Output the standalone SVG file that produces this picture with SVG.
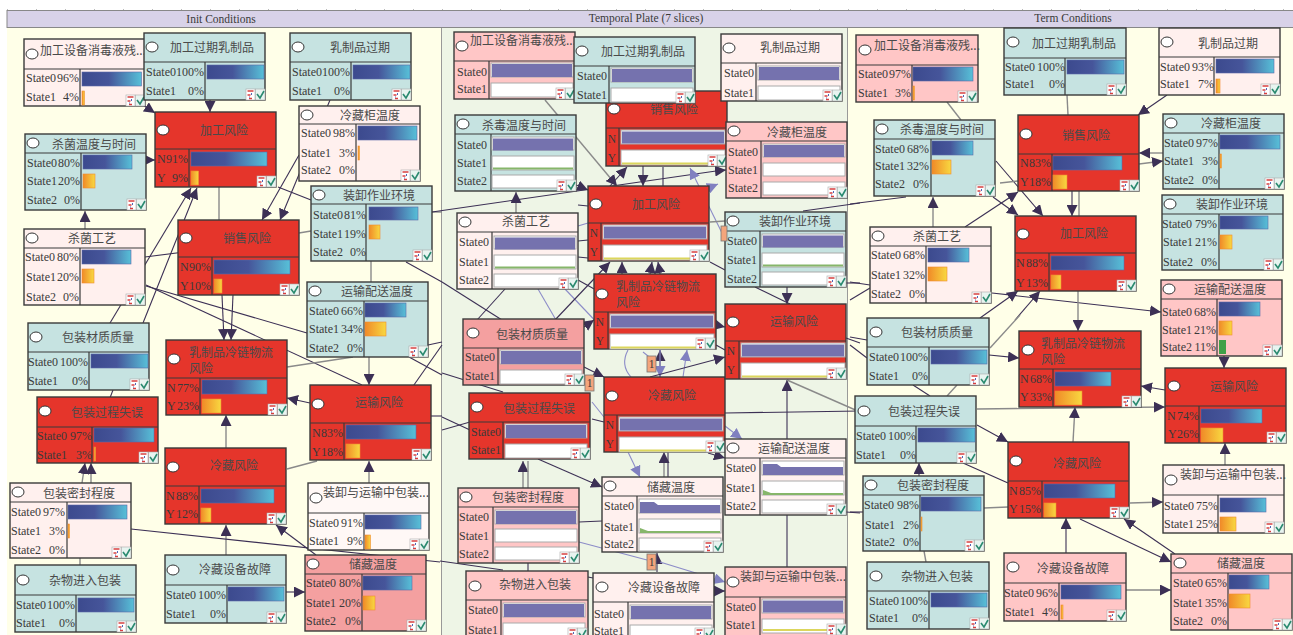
<svg xmlns="http://www.w3.org/2000/svg" width="1293" height="635" viewBox="0 0 1293 635">
<style>
text{fill:#3a3a3a}
.t,.tl{font:12px "Noto Sans CJK SC","Noto Sans",sans-serif;fill:#4a4a4a}
.t{text-anchor:middle}
.s,.p,.h{font:12px "Liberation Serif",serif}
.p{text-anchor:end}
.h{text-anchor:middle;font-size:11.5px}
.bx{stroke:#3a3a3a;stroke-width:1.4}
.dv{fill:none;stroke:#3a3a3a;stroke-width:1.2}
.red{fill:#e5352b}.teal{fill:#c6e3e1}.pale{fill:#fff0ee}.pink{fill:#ffc6c6}.rose{fill:#f4a0a0}.wht{fill:#fff8f6}
.r{fill:#fff;stroke:#333;rx:6px;ry:5px}
.b{fill:url(#gb);stroke:#5a68a8;stroke-width:.6}
.o{fill:url(#go);stroke:#f08a30;stroke-width:.6}
.gb{fill:#3fa048}
.tr{fill:#fff;stroke:#aaa;stroke-width:1}
.pu{fill:#7572ae}
.gl{fill:#86b66a}.yl{fill:#dcd65c}
.k,.g,.l{fill:none}
.k{stroke:#3c3055;stroke-width:1.1}
.g{stroke:#8a8a8a;stroke-width:1.4}
.l{stroke:#8c8cc8;stroke-width:1.1}
.a{marker-end:url(#ah)}
.la{marker-end:url(#lh)}
.bd{fill:#f4a57c;stroke:#777;stroke-width:.8}
</style>
<defs>
<linearGradient id="gb"><stop offset="0" stop-color="#3c4a8e"/><stop offset=".45" stop-color="#46559a"/><stop offset="1" stop-color="#57c0d8"/></linearGradient>
<linearGradient id="go"><stop offset="0" stop-color="#f08a28"/><stop offset="1" stop-color="#f8d840"/></linearGradient>
<marker id="ah" markerUnits="userSpaceOnUse" markerWidth="12" markerHeight="11" refX="11" refY="5.5" orient="auto"><path d="M0 0L11 5.5L0 11z" fill="#3c3055"/></marker>
<marker id="lh" markerUnits="userSpaceOnUse" markerWidth="12" markerHeight="11" refX="11" refY="5.5" orient="auto"><path d="M0 0L11 5.5L0 11z" fill="#8080c0"/></marker>
<g id="ic"><rect width="9" height="11" fill="#fff" stroke="#aaa" stroke-width=".6"/><path d="M1.500 2h6M1.500 6h3M3 9.500h3" stroke="#d84040" stroke-width="1.500"/><path d="M5.500 4v2M3.500 7.500v1" stroke="#5068b8" stroke-width="1"/><rect x="9.500" width="9.500" height="11" fill="#e8f4f0" stroke="#aaa" stroke-width=".6"/><path d="M11 5l3 4l4-7" fill="none" stroke="#2a8a70" stroke-width="1.600"/></g>
<g id="c2"><rect class="tr" width="82" height="14"/><rect class="pu" x="1" y="1" width="80" height="13"/><rect class="tr" y="20" width="82" height="14"/></g>
<g id="c3"><rect class="tr" width="82" height="13"/><rect class="pu" x="1" y="1.500" width="80" height="12"/><rect class="tr" y="19" width="82" height="14"/><rect class="gl" x="1" y="30.500" width="80" height="2"/><rect class="tr" y="38" width="82" height="13"/></g>
<g id="c3s"><rect class="tr" width="82" height="14"/><path class="pu" d="M1 14V3h14l4 3h62v8z"/><rect class="tr" y="20" width="82" height="14"/><path class="gl" d="M1 34v-5l8 3h72v2z"/><rect class="tr" y="39" width="82" height="13"/></g>
<g id="c2r"><rect class="tr" width="104" height="14"/><rect class="pu" x="1" y="1.500" width="102" height="12"/><rect class="tr" y="20" width="104" height="15"/><rect class="yl" x="1" y="32.500" width="102" height="2"/></g>
</defs>
<rect x="7" y="28" width="435" height="607" fill="#ffffe8"/>
<rect x="442" y="28" width="406" height="607" fill="#eef5e6"/>
<rect x="848" y="28" width="445" height="607" fill="#ffffe8"/>
<path d="M441.500 28V635M847.500 28V635" stroke="#999" fill="none"/>
<g id="band">
<path d="M7 9.500H1293" stroke="#bbb" stroke-dasharray="1 28" fill="none"/>
<rect x="7" y="10.500" width="1287" height="17" fill="#d8d2e8" stroke="#888"/>
<text class="h" x="221" y="23">Init Conditions</text>
<text class="h" x="646" y="22">Temporal Plate (7 slices)</text>
<text class="h" x="1073" y="22">Term Conditions</text>
</g>
<g id="connectors">
<path class="k a" d="M140 103L155 113"/>
<path class="k a" d="M210 100V112"/>
<path class="k a" d="M146 160H155"/>
<path class="g a" d="M85 229V211"/>
<path class="k a" d="M110 323L191 188"/>
<path class="k a" d="M143 323L197 188"/>
<path class="k" d="M145 257L200 250"/>
<path class="k" d="M146 285L362 385"/>
<path class="k" d="M146 286L307 333"/>
<path class="k a" d="M299 155L262 220"/>
<path class="k a" d="M330 100L280 220"/>
<path class="g" d="M219 187V220"/>
<path class="k" d="M278 187L311 200"/>
<path class="g" d="M299 233L311 231"/>
<path class="g" d="M371 261V282"/>
<path class="k" d="M406 262L442 282"/>
<path class="g" d="M432 212H442"/>
<path class="k a" d="M222 295L224 340"/>
<path class="k a" d="M233 295L231 340"/>
<path class="g a" d="M369 357V385"/>
<path class="k a" d="M310 403L287 398"/>
<path class="g" d="M287 367L353 357"/>
<path class="g a" d="M226 448V415"/>
<path class="g" d="M287 469L317 461"/>
<path class="k" d="M409 357L442 375"/>
<path class="k" d="M431 416H442"/>
<path class="k" d="M409 392L442 345"/>
<path class="k" d="M428 345L442 342"/>
<path class="g a" d="M82 483L85 463"/>
<path class="g a" d="M91 483V463"/>
<path class="k a" d="M113 390L85 463"/>
<path class="g a" d="M226 555V525"/>
<path class="k a" d="M316 555L276 525"/>
<path class="k" d="M131 529L440 562"/>
<path class="k a" d="M286 592H305"/>
<path class="g a" d="M369 483V461"/>
<path class="g" d="M80 565V558"/>
<path class="k" d="M432 212L716 171"/>
<path class="k a" d="M716 171L726 170"/>
<path class="g a" d="M545 100L617 186"/>
<path class="k a" d="M576 185L588 190"/>
<path class="g a" d="M516 213V192"/>
<path class="k a" d="M610 186L627 167"/>
<path class="k a" d="M643 166V186"/>
<path class="k" d="M663 167V186"/>
<path class="l la" d="M722 233L690 168"/>
<path class="l la" d="M690 196L718 184"/>
<path class="k" d="M578 205L588 206"/>
<path class="l" d="M578 226L588 223"/>
<path class="k" d="M578 241L588 240"/>
<path class="k" d="M578 257L588 258"/>
<path class="g" d="M710 222L725 221"/>
<path class="k" d="M710 262L725 270"/>
<path class="k" d="M505 289L477 320"/>
<path class="l" d="M538 289L556 320"/>
<path class="l" d="M565 289L604 330"/>
<path class="k" d="M442 282L502 320"/>
<path class="k a" d="M555 320L610 262"/>
<path class="k a" d="M622 274V262"/>
<path class="k a" d="M650 274L652 262"/>
<path class="k a" d="M660 274L658 262"/>
<path class="k" d="M578 280L596 290"/>
<path class="k a" d="M787 287V304"/>
<path class="k" d="M755 287L790 304"/>
<path class="k" d="M803 211L860 203"/>
<path class="k" d="M846 283H860"/>
<path class="k a" d="M584 327L594 320"/>
<path class="k a" d="M584 367L604 377"/>
<path class="k a" d="M716 325L725 327"/>
<path class="k" d="M716 345L725 350"/>
<path class="l" d="M628 350Q620 365 631 377"/>
<path class="l" d="M643 352L653 360"/>
<path class="k a" d="M660 377V350"/>
<path class="l la" d="M660 350V377"/>
<path class="l la" d="M683 377L687 350"/>
<path class="k a" d="M650 377L725 357"/>
<path class="l" d="M592 402L604 417"/>
<path class="k" d="M592 419L604 422"/>
<path class="k" d="M442 373L503 392"/>
<path class="k" d="M442 417L470 430"/>
<path class="k" d="M442 430L470 422"/>
<path class="g a" d="M664 477V452"/>
<path class="k" d="M668 477V452"/>
<path class="l la" d="M628 452L640 477"/>
<path class="l la" d="M725 426L742 439"/>
<path class="k a" d="M708 453L725 458"/>
<path class="k a" d="M787 439V380"/>
<path class="g" d="M787 380L860 412"/>
<path class="k" d="M725 413L860 411"/>
<path class="k a" d="M538 459L602 487"/>
<path class="g a" d="M523 488V461"/>
<path class="g" d="M528 488V461"/>
<path class="k" d="M579 522L602 521"/>
<path class="l" d="M579 542L647 560"/>
<path class="k a" d="M657 572V553"/>
<path class="l la" d="M660 562L725 582"/>
<path class="k a" d="M714 591H725"/>
<path class="k" d="M528 563V571"/>
<path class="k" d="M440 561L503 570"/>
<path class="k" d="M588 577L593 578"/>
<path class="k" d="M787 515V567"/>
<path class="k" d="M846 512L860 513"/>
<path class="k" d="M846 338L860 343"/>
<path class="g" d="M947 102L961 120"/>
<path class="g" d="M1067 95L1068 115"/>
<path class="k a" d="M1167 95L1138 115"/>
<path class="g a" d="M1163 153L1139 153"/>
<path class="g a" d="M1139 164L1163 161"/>
<path class="k a" d="M996 161L1043 216"/>
<path class="g" d="M1000 183L1018 181"/>
<path class="k a" d="M1072 191V216"/>
<path class="g" d="M1079 191V216"/>
<path class="k a" d="M993 197L1018 215"/>
<path class="g a" d="M933 227V197"/>
<path class="k a" d="M965 227L1018 192"/>
<path class="k" d="M850 204L906 197"/>
<path class="k" d="M850 282L870 285"/>
<path class="k" d="M850 300L870 288"/>
<path class="k a" d="M992 293L1161 312"/>
<path class="k a" d="M980 318L1018 291"/>
<path class="k a" d="M1015 320L1040 291"/>
<path class="g a" d="M1078 291V331"/>
<path class="k a" d="M989 355L1019 358"/>
<path class="g" d="M990 348L1020 315"/>
<path class="k" d="M850 337L867 340"/>
<path class="k" d="M850 345L867 358"/>
<path class="k" d="M913 385L930 396"/>
<path class="g" d="M957 385L947 396"/>
<path class="g a" d="M977 409L1165 407"/>
<path class="k a" d="M977 425L1008 442"/>
<path class="k" d="M963 463L1008 483"/>
<path class="k a" d="M919 476V463"/>
<path class="g" d="M984 508L1008 507"/>
<path class="g a" d="M1073 442L1075 407"/>
<path class="k a" d="M1165 390L1141 386"/>
<path class="k a" d="M1224 356V368"/>
<path class="g a" d="M1225 465V443"/>
<path class="g a" d="M1130 503L1163 502"/>
<path class="k a" d="M1066 553V518"/>
<path class="k a" d="M1080 519L1171 562"/>
<path class="k a" d="M1175 554L1124 519"/>
<path class="g a" d="M1126 590H1171"/>
<path class="g" d="M924 551L926 562"/>
<path class="k" d="M850 512L863 512"/>
</g>
<g id="i1" transform="translate(24,39)"><rect class="bx pale" width="121" height="67"/><path class="dv" d="M0 30H121M56 30V67"/><ellipse class="r" cx="8" cy="15"/><text class="tl" x="16" y="16">加工设备消毒液残...</text><text class="s" x="2" y="43">State0</text><text class="p" x="55" y="43">96%</text><text class="s" x="2" y="62">State1</text><text class="p" x="55" y="62">4%</text><rect class="b" x="58" y="33" width="59.500" height="14"/><rect class="o" x="58" y="52" width="2.500" height="14"/><use href="#ic" x="102" y="56"/></g>
<g id="i2" transform="translate(144,33)"><rect class="bx teal" width="121" height="67"/><path class="dv" d="M0 29H121M61 29V67"/><ellipse class="r" cx="8" cy="14"/><text class="t" x="68" y="19">加工过期乳制品</text><text class="s" x="2" y="43">State0</text><text class="p" x="60" y="43">100%</text><text class="s" x="2" y="62">State1</text><text class="p" x="60" y="62">0%</text><rect class="b" x="63" y="32" width="57" height="14"/><use href="#ic" x="102" y="56"/></g>
<g id="i3" transform="translate(290,33)"><rect class="bx teal" width="121" height="67"/><path class="dv" d="M0 29H121M61 29V67"/><ellipse class="r" cx="8" cy="14"/><text class="t" x="70" y="19">乳制品过期</text><text class="s" x="2" y="43">State0</text><text class="p" x="60" y="43">100%</text><text class="s" x="2" y="62">State1</text><text class="p" x="60" y="62">0%</text><rect class="b" x="63" y="32" width="57" height="14"/><use href="#ic" x="102" y="56"/></g>
<g id="i4" transform="translate(299,106)"><rect class="bx pale" width="121" height="75"/><path class="dv" d="M0 18H121M57 18V75"/><ellipse class="r" cx="8" cy="9"/><text class="t" x="71" y="14">冷藏柜温度</text><text class="s" x="2" y="31">State0</text><text class="p" x="56" y="31">98%</text><text class="s" x="2" y="51">State1</text><text class="p" x="56" y="51">3%</text><text class="s" x="2" y="68">State2</text><text class="p" x="56" y="68">0%</text><rect class="b" x="59" y="20" width="59" height="14"/><rect class="o" x="59" y="40" width="1.500" height="14"/><use href="#ic" x="102" y="64"/></g>
<g id="i5" transform="translate(311,186)"><rect class="bx teal" width="121" height="75"/><path class="dv" d="M0 18H121M55 18V75"/><ellipse class="r" cx="8" cy="9"/><text class="t" x="68" y="14">装卸作业环境</text><text class="s" x="2" y="33">State0</text><text class="p" x="55" y="33">81%</text><text class="s" x="2" y="52">State1</text><text class="p" x="55" y="52">19%</text><text class="s" x="2" y="70">State2</text><text class="p" x="55" y="70">0%</text><rect class="b" x="58" y="21" width="49" height="13"/><rect class="o" x="58" y="39" width="11" height="14"/><use href="#ic" x="102" y="64"/></g>
<g id="i6" transform="translate(307,282)"><rect class="bx teal" width="121" height="75"/><path class="dv" d="M0 19H121M57 19V75"/><ellipse class="r" cx="8" cy="9"/><text class="t" x="70" y="14">运输配送温度</text><text class="s" x="2" y="33">State0</text><text class="p" x="56" y="33">66%</text><text class="s" x="2" y="51">State1</text><text class="p" x="56" y="51">34%</text><text class="s" x="2" y="70">State2</text><text class="p" x="56" y="70">0%</text><rect class="b" x="58" y="21" width="41" height="14"/><rect class="o" x="58" y="40" width="21" height="14"/><use href="#ic" x="102" y="64"/></g>
<g id="i7" transform="translate(155,112)"><rect class="bx red" width="121" height="75"/><path class="dv" d="M0 37H121M34 37V75"/><ellipse class="r" cx="8" cy="18"/><text class="t" x="69" y="23">加工风险</text><text class="s" x="2" y="51">N</text><text class="p" x="33" y="51">91%</text><text class="s" x="2" y="70">Y</text><text class="p" x="33" y="70">9%</text><rect class="b" x="36" y="40" width="76" height="14"/><rect class="o" x="36" y="59" width="7.600" height="14"/><use href="#ic" x="102" y="64"/></g>
<g id="i8" transform="translate(178,220)"><rect class="bx red" width="121" height="75"/><path class="dv" d="M0 37H121M34 37V75"/><ellipse class="r" cx="8" cy="18"/><text class="t" x="69" y="23">销售风险</text><text class="s" x="2" y="51">N</text><text class="p" x="33" y="51">90%</text><text class="s" x="2" y="70">Y</text><text class="p" x="33" y="70">10%</text><rect class="b" x="36" y="40" width="76" height="14"/><rect class="o" x="36" y="59" width="8" height="14"/><use href="#ic" x="102" y="64"/></g>
<g id="i9" transform="translate(25,134)"><rect class="bx teal" width="121" height="76"/><path class="dv" d="M0 19H121M56 19V76"/><ellipse class="r" cx="8" cy="9"/><text class="t" x="69" y="15">杀菌温度与时间</text><text class="s" x="2" y="33">State0</text><text class="p" x="55" y="33">80%</text><text class="s" x="2" y="51">State1</text><text class="p" x="55" y="51">20%</text><text class="s" x="2" y="70">State2</text><text class="p" x="55" y="70">0%</text><rect class="b" x="58" y="21" width="49" height="14"/><rect class="o" x="58" y="40" width="12" height="14"/><use href="#ic" x="102" y="65"/></g>
<g id="i10" transform="translate(24,229)"><rect class="bx pale" width="121" height="76"/><path class="dv" d="M0 19H121M56 19V76"/><ellipse class="r" cx="8" cy="9"/><text class="t" x="68" y="14">杀菌工艺</text><text class="s" x="1" y="32">State0</text><text class="p" x="55" y="32">80%</text><text class="s" x="2" y="52">State1</text><text class="p" x="55" y="52">20%</text><text class="s" x="2" y="72">State2</text><text class="p" x="55" y="72">0%</text><rect class="b" x="58" y="21" width="49" height="14"/><rect class="o" x="58" y="40" width="12" height="14"/><use href="#ic" x="102" y="65"/></g>
<g id="i11" transform="translate(28,323)"><rect class="bx teal" width="121" height="67"/><path class="dv" d="M0 29H121M61 29V67"/><ellipse class="r" cx="8" cy="14"/><text class="t" x="70" y="19">包装材质质量</text><text class="s" x="0" y="43">State0</text><text class="p" x="60" y="43">100%</text><text class="s" x="0" y="62">State1</text><text class="p" x="60" y="62">0%</text><rect class="b" x="63" y="31" width="57" height="14"/><use href="#ic" x="102" y="56"/></g>
<g id="i12" transform="translate(37,397)"><rect class="bx red" width="121" height="66"/><path class="dv" d="M0 30H121M55 30V66"/><ellipse class="r" cx="8" cy="14"/><text class="t" x="70" y="20">包装过程失误</text><text class="s" x="0" y="43">State0</text><text class="p" x="55" y="43">97%</text><text class="s" x="0" y="62">State1</text><text class="p" x="55" y="62">3%</text><rect class="b" x="57" y="31" width="60" height="14"/><rect class="o" x="57" y="50" width="1.500" height="14"/><use href="#ic" x="102" y="55"/></g>
<g id="i13" transform="translate(166,340)"><rect class="bx red" width="121" height="75"/><path class="dv" d="M0 38H121M34 38V75"/><ellipse class="r" cx="8" cy="19"/><text class="tl" x="23" y="17">乳制品冷链物流<tspan x="23" y="33">风险</tspan></text><text class="s" x="1" y="52">N</text><text class="p" x="33" y="52">77%</text><text class="s" x="1" y="70">Y</text><text class="p" x="33" y="70">23%</text><rect class="b" x="36" y="40" width="65" height="14"/><rect class="o" x="36" y="59" width="19" height="14"/><use href="#ic" x="102" y="64"/></g>
<g id="i14" transform="translate(310,385)"><rect class="bx red" width="121" height="75"/><path class="dv" d="M0 38H121M34 38V75"/><ellipse class="r" cx="8" cy="19"/><text class="t" x="69" y="22">运输风险</text><text class="s" x="2" y="52">N</text><text class="p" x="33" y="52">83%</text><text class="s" x="2" y="71">Y</text><text class="p" x="33" y="71">18%</text><rect class="b" x="36" y="40" width="70" height="14"/><rect class="o" x="36" y="59" width="14" height="14"/><use href="#ic" x="102" y="64"/></g>
<g id="i15" transform="translate(165,448)"><rect class="bx red" width="121" height="76"/><path class="dv" d="M0 38H121M34 38V76"/><ellipse class="r" cx="8" cy="19"/><text class="t" x="69" y="22">冷藏风险</text><text class="s" x="1" y="52">N</text><text class="p" x="33" y="52">88%</text><text class="s" x="1" y="70">Y</text><text class="p" x="33" y="70">12%</text><rect class="b" x="36" y="41" width="73" height="14"/><rect class="o" x="36" y="60" width="10" height="14"/><use href="#ic" x="102" y="65"/></g>
<g id="i16" transform="translate(10,483)"><rect class="bx pale" width="121" height="75"/><path class="dv" d="M0 19H121M57 19V75"/><ellipse class="r" cx="8" cy="9"/><text class="t" x="69" y="15">包装密封程度</text><text class="s" x="1" y="33">State0</text><text class="p" x="55" y="33">97%</text><text class="s" x="1" y="52">State1</text><text class="p" x="55" y="52">3%</text><text class="s" x="1" y="71">State2</text><text class="p" x="55" y="71">0%</text><rect class="b" x="58" y="22" width="59" height="14"/><rect class="o" x="58" y="41" width="1.500" height="14"/><use href="#ic" x="102" y="64"/></g>
<g id="i17" transform="translate(308,483)"><rect class="bx wht" width="121" height="67"/><path class="dv" d="M0 30H121M56 30V67"/><ellipse class="r" cx="8" cy="15"/><text class="tl" x="15" y="14">装卸与运输中包装...</text><text class="s" x="1" y="44">State0</text><text class="p" x="55" y="44">91%</text><text class="s" x="1" y="62">State1</text><text class="p" x="55" y="62">9%</text><rect class="b" x="57" y="32" width="56" height="14"/><rect class="o" x="57" y="52" width="5.500" height="14"/><use href="#ic" x="102" y="56"/></g>
<g id="i18" transform="translate(15,565)"><rect class="bx teal" width="121" height="67"/><path class="dv" d="M0 30H121M61 30V67"/><ellipse class="r" cx="8" cy="15"/><text class="t" x="70" y="20">杂物进入包装</text><text class="s" x="1" y="44">State0</text><text class="p" x="60" y="44">100%</text><text class="s" x="1" y="62">State1</text><text class="p" x="60" y="62">0%</text><rect class="b" x="63" y="33" width="56" height="14"/><use href="#ic" x="102" y="56"/></g>
<g id="i19" transform="translate(165,555)"><rect class="bx teal" width="121" height="68"/><path class="dv" d="M0 30H121M62 30V68"/><ellipse class="r" cx="8" cy="15"/><text class="t" x="70" y="19">冷藏设备故障</text><text class="s" x="1" y="44">State0</text><text class="p" x="61" y="44">100%</text><text class="s" x="1" y="63">State1</text><text class="p" x="61" y="63">0%</text><rect class="b" x="63" y="32" width="56" height="14"/><use href="#ic" x="102" y="57"/></g>
<g id="i20" transform="translate(305,555)"><rect class="bx rose" width="121" height="76"/><path class="dv" d="M0 19H121M57 19V76"/><ellipse class="r" cx="8" cy="9"/><text class="t" x="68" y="14">储藏温度</text><text class="s" x="1" y="32">State0</text><text class="p" x="56" y="32">80%</text><text class="s" x="1" y="52">State1</text><text class="p" x="56" y="52">20%</text><text class="s" x="1" y="70">State2</text><text class="p" x="56" y="70">0%</text><rect class="b" x="58" y="21" width="49" height="14"/><rect class="o" x="58" y="41" width="12" height="14"/><use href="#ic" x="102" y="65"/></g>

<g id="t4" transform="translate(606,91)"><rect class="bx red" width="121" height="75"/><path class="dv" d="M0 37H121M13 37V75"/><ellipse class="r" cx="8" cy="18"/><text class="t" x="68" y="23">销售风险</text><text class="h" x="6" y="52">N</text><text class="h" x="6" y="71">Y</text><use href="#c2r" x="15" y="39"/><use href="#ic" x="102" y="64"/></g>
<g id="t1" transform="translate(454,32)"><rect class="bx pink" width="121" height="67"/><path class="dv" d="M0 29H121M35 29V67"/><ellipse class="r" cx="8" cy="14"/><text class="tl" x="16" y="13">加工设备消毒液残...</text><text class="s" x="3" y="44">State0</text><text class="s" x="3" y="61">State1</text><use href="#c2" x="37" y="31"/><use href="#ic" x="102" y="56"/></g>
<g id="t2" transform="translate(574,37)"><rect class="bx teal" width="121" height="66"/><path class="dv" d="M0 29H121M35 29V66"/><ellipse class="r" cx="8" cy="14"/><text class="t" x="69" y="19">加工过期乳制品</text><text class="s" x="3" y="43">State0</text><text class="s" x="3" y="62">State1</text><use href="#c2" x="37" y="31"/><use href="#ic" x="102" y="55"/></g>
<g id="t3" transform="translate(721,34)"><rect class="bx pale" width="121" height="67"/><path class="dv" d="M0 29H121M35 29V67"/><ellipse class="r" cx="8" cy="14"/><text class="t" x="69" y="18">乳制品过期</text><text class="s" x="3" y="43">State0</text><text class="s" x="3" y="63">State1</text><use href="#c2" x="37" y="32"/><use href="#ic" x="102" y="56"/></g>
<g id="t5" transform="translate(726,122)"><rect class="bx pink" width="121" height="76"/><path class="dv" d="M0 19H121M35 19V76"/><ellipse class="r" cx="8" cy="9"/><text class="t" x="71" y="15">冷藏柜温度</text><text class="s" x="2" y="34">State0</text><text class="s" x="2" y="52">State1</text><text class="s" x="2" y="70">State2</text><g transform="translate(37,22)"><rect class="tr" width="82" height="13"/><rect class="pu" x="1" y="1" width="80" height="12"/><rect class="tr" y="19" width="82" height="13"/><rect class="tr" y="38" width="82" height="13"/></g><use href="#ic" x="102" y="65"/></g>
<g id="t6" transform="translate(455,115)"><rect class="bx teal" width="121" height="76"/><path class="dv" d="M0 19H121M36 19V76"/><ellipse class="r" cx="8" cy="9"/><text class="t" x="69" y="15">杀毒温度与时间</text><text class="s" x="2" y="34">State0</text><text class="s" x="2" y="52">State1</text><text class="s" x="2" y="70">State2</text><use href="#c3" x="37" y="22"/><use href="#ic" x="102" y="65"/></g>
<g id="t7" transform="translate(588,186)"><rect class="bx red" width="121" height="75"/><path class="dv" d="M0 37H121M13 37V75"/><ellipse class="r" cx="8" cy="18"/><text class="t" x="68" y="23">加工风险</text><text class="h" x="6" y="51">N</text><text class="h" x="6" y="70">Y</text><use href="#c2r" x="15" y="39"/><use href="#ic" x="102" y="64"/></g>
<g id="t8" transform="translate(457,213)"><rect class="bx pale" width="121" height="76"/><path class="dv" d="M0 19H121M35 19V76"/><ellipse class="r" cx="8" cy="9"/><text class="t" x="69" y="13">杀菌工艺</text><text class="s" x="2" y="33">State0</text><text class="s" x="2" y="53">State1</text><text class="s" x="2" y="71">State2</text><use href="#c3" x="37" y="23"/><use href="#ic" x="102" y="65"/></g>
<g id="t9" transform="translate(725,212)"><rect class="bx teal" width="121" height="75"/><path class="dv" d="M0 19H121M35 19V75"/><ellipse class="r" cx="8" cy="9"/><text class="t" x="70" y="14">装卸作业环境</text><text class="s" x="2" y="33">State0</text><text class="s" x="2" y="52">State1</text><text class="s" x="2" y="71">State2</text><use href="#c3" x="37" y="22"/><use href="#ic" x="102" y="64"/></g>
<g id="t10" transform="translate(594,274)"><rect class="bx red" width="122" height="75"/><path class="dv" d="M0 38H122M14 38V75"/><ellipse class="r" cx="8" cy="20"/><text class="tl" x="22" y="17">乳制品冷链物流<tspan x="22" y="33">风险</tspan></text><text class="h" x="6" y="52">N</text><text class="h" x="6" y="71">Y</text><use href="#c2r" x="16" y="40"/><use href="#ic" x="102" y="64"/></g>
<g id="t12" transform="translate(463,319)"><rect class="bx rose" width="121" height="66"/><path class="dv" d="M0 29H121M35 29V66"/><ellipse class="r" cx="10" cy="14"/><text class="t" x="69" y="20">包装材质质量</text><text class="s" x="2" y="42">State0</text><text class="s" x="2" y="61">State1</text><use href="#c2" x="37" y="31"/><use href="#ic" x="102" y="55"/></g>
<g id="t13" transform="translate(604,377)"><rect class="bx red" width="121" height="75"/><path class="dv" d="M0 38H121M13 38V75"/><ellipse class="r" cx="8" cy="19"/><text class="t" x="68" y="23">冷藏风险</text><text class="h" x="6" y="52">N</text><text class="h" x="6" y="71">Y</text><use href="#c2r" x="15" y="40"/><use href="#ic" x="102" y="64"/></g>
<g id="t14" transform="translate(469,393)"><rect class="bx red" width="121" height="66"/><path class="dv" d="M0 29H121M34 29V66"/><ellipse class="r" cx="8" cy="14"/><text class="t" x="70" y="20">包装过程失误</text><text class="s" x="2" y="43">State0</text><text class="s" x="2" y="61">State1</text><use href="#c2" x="36" y="31"/><use href="#ic" x="102" y="55"/></g>
<g id="t11" transform="translate(725,304)"><rect class="bx red" width="121" height="75"/><path class="dv" d="M0 37H121M14 37V75"/><ellipse class="r" cx="8" cy="18"/><text class="t" x="69" y="22">运输风险</text><text class="h" x="6" y="51">N</text><text class="h" x="6" y="70">Y</text><use href="#c2r" x="16" y="39"/><use href="#ic" x="102" y="64"/></g>
<g id="t15" transform="translate(725,439)"><rect class="bx pale" width="121" height="76"/><path class="dv" d="M0 19H121M35 19V76"/><ellipse class="r" cx="8" cy="9"/><text class="t" x="69" y="14">运输配送温度</text><text class="s" x="1" y="33">State0</text><text class="s" x="1" y="53">State1</text><text class="s" x="1" y="71">State2</text><use href="#c3s" x="37" y="22"/><use href="#ic" x="102" y="65"/></g>
<g id="t16" transform="translate(602,477)"><rect class="bx pale" width="121" height="75"/><path class="dv" d="M0 19H121M35 19V75"/><ellipse class="r" cx="8" cy="9"/><text class="t" x="69" y="15">储藏温度</text><text class="s" x="2" y="33">State0</text><text class="s" x="2" y="54">State1</text><text class="s" x="2" y="71">State2</text><use href="#c3s" x="37" y="22"/><use href="#ic" x="102" y="64"/></g>
<g id="t17" transform="translate(458,488)"><rect class="bx pink" width="121" height="75"/><path class="dv" d="M0 19H121M35 19V75"/><ellipse class="r" cx="8" cy="9"/><text class="t" x="70" y="14">包装密封程度</text><text class="s" x="1" y="33">State0</text><text class="s" x="1" y="52">State1</text><text class="s" x="1" y="70">State2</text><g transform="translate(37,22)"><rect class="tr" width="82" height="14"/><rect class="pu" x="1" y="1" width="80" height="13"/><rect class="tr" y="19" width="82" height="13"/><rect class="tr" y="37" width="82" height="13"/></g><use href="#ic" x="102" y="64"/></g>
<g id="t18" transform="translate(466,571)"><rect class="bx pink" width="122" height="66"/><path class="dv" d="M0 29H122M35 29V66"/><ellipse class="r" cx="9" cy="15"/><text class="t" x="69" y="18">杂物进入包装</text><text class="s" x="2" y="43">State0</text><text class="s" x="2" y="63">State1</text><use href="#c2" x="37" y="32"/><use href="#ic" x="102" y="57"/></g>
<g id="t19" transform="translate(593,573)"><rect class="bx pale" width="121" height="66"/><path class="dv" d="M0 29H121M35 29V66"/><ellipse class="r" cx="9" cy="14"/><text class="t" x="71" y="19">冷藏设备故障</text><text class="s" x="1" y="45">State0</text><text class="s" x="1" y="62">State1</text><use href="#c2" x="37" y="32"/><use href="#ic" x="102" y="55"/></g>
<g id="t20" transform="translate(725,567)"><rect class="bx pink" width="121" height="70"/><path class="dv" d="M0 30H121M35 30V70"/><ellipse class="r" cx="8" cy="15"/><text class="tl" x="15" y="14">装卸与运输中包装...</text><text class="s" x="1" y="44">State0</text><text class="s" x="1" y="62">State1</text><g transform="translate(37,32)"><rect class="tr" width="82" height="14"/><rect class="pu" x="1" y="1.500" width="80" height="12"/><rect class="tr" y="20" width="82" height="14"/><rect class="yl" x="1" y="30" width="80" height="2"/></g><use href="#ic" x="102" y="57"/></g>

<g id="r1" transform="translate(856,35)"><rect class="bx pink" width="122" height="67"/><path class="dv" d="M0 30H122M56 30V67"/><ellipse class="r" cx="9" cy="15"/><text class="tl" x="18" y="15">加工设备消毒液残...</text><text class="s" x="2" y="43">State0</text><text class="p" x="55" y="43">97%</text><text class="s" x="2" y="62">State1</text><text class="p" x="55" y="62">3%</text><rect class="b" x="57" y="32" width="60" height="14"/><rect class="o" x="57" y="51" width="1.500" height="14"/><use href="#ic" x="102" y="56"/></g>
<g id="r2" transform="translate(1004,28)"><rect class="bx teal" width="122" height="67"/><path class="dv" d="M0 30H122M61 30V67"/><ellipse class="r" cx="9" cy="14"/><text class="t" x="70" y="20">加工过期乳制品</text><text class="s" x="1" y="43">State0</text><text class="p" x="61" y="43">100%</text><text class="s" x="1" y="60">State1</text><text class="p" x="61" y="60">0%</text><rect class="b" x="63" y="32" width="57" height="14"/><use href="#ic" x="103" y="56"/></g>
<g id="r3" transform="translate(1159,28)"><rect class="bx pale" width="121" height="67"/><path class="dv" d="M0 29H121M55 29V67"/><ellipse class="r" cx="8" cy="14"/><text class="t" x="69" y="20">乳制品过期</text><text class="s" x="1" y="43">State0</text><text class="p" x="55" y="43">93%</text><text class="s" x="1" y="60">State1</text><text class="p" x="55" y="60">7%</text><rect class="b" x="57" y="31" width="58" height="14"/><rect class="o" x="57" y="51" width="4" height="14"/><use href="#ic" x="102" y="56"/></g>
<g id="r4" transform="translate(1018,115)"><rect class="bx red" width="121" height="76"/><path class="dv" d="M0 39H121M34 39V76"/><ellipse class="r" cx="8" cy="19"/><text class="t" x="68" y="25">销售风险</text><text class="s" x="2" y="52">N</text><text class="p" x="33" y="52">83%</text><text class="s" x="2" y="71">Y</text><text class="p" x="33" y="71">18%</text><rect class="b" x="35" y="41" width="69" height="14"/><rect class="o" x="35" y="60" width="14" height="14"/><use href="#ic" x="102" y="65"/></g>
<g id="r5" transform="translate(1163,114)"><rect class="bx teal" width="121" height="75"/><path class="dv" d="M0 19H121M56 19V75"/><ellipse class="r" cx="8" cy="9"/><text class="t" x="68" y="14">冷藏柜温度</text><text class="s" x="1" y="33">State0</text><text class="p" x="55" y="33">97%</text><text class="s" x="1" y="51">State1</text><text class="p" x="55" y="51">3%</text><text class="s" x="1" y="70">State2</text><text class="p" x="55" y="70">0%</text><rect class="b" x="57" y="21" width="60" height="14"/><rect class="o" x="57" y="40" width="1.500" height="14"/><use href="#ic" x="102" y="64"/></g>
<g id="r6" transform="translate(874,120)"><rect class="bx teal" width="121" height="76"/><path class="dv" d="M0 19H121M57 19V76"/><ellipse class="r" cx="8" cy="9"/><text class="t" x="68" y="14">杀毒温度与时间</text><text class="s" x="1" y="33">State0</text><text class="p" x="55" y="33">68%</text><text class="s" x="1" y="50">State1</text><text class="p" x="55" y="50">32%</text><text class="s" x="1" y="68">State2</text><text class="p" x="55" y="68">0%</text><rect class="b" x="58" y="21" width="41" height="14"/><rect class="o" x="58" y="40" width="19" height="14"/><use href="#ic" x="102" y="65"/></g>
<g id="r7" transform="translate(1162,195)"><rect class="bx teal" width="121" height="75"/><path class="dv" d="M0 19H121M57 19V75"/><ellipse class="r" cx="8" cy="9"/><text class="t" x="70" y="14">装卸作业环境</text><text class="s" x="0" y="33">State0</text><text class="p" x="55" y="33">79%</text><text class="s" x="1" y="51">State1</text><text class="p" x="55" y="51">21%</text><text class="s" x="1" y="71">State2</text><text class="p" x="55" y="71">0%</text><rect class="b" x="58" y="21" width="48" height="13"/><rect class="o" x="58" y="40" width="12" height="14"/><use href="#ic" x="102" y="64"/></g>
<g id="r8" transform="translate(870,227)"><rect class="bx pale" width="121" height="76"/><path class="dv" d="M0 19H121M56 19V76"/><ellipse class="r" cx="8" cy="9"/><text class="t" x="67" y="14">杀菌工艺</text><text class="s" x="1" y="32">State0</text><text class="p" x="55" y="32">68%</text><text class="s" x="1" y="52">State1</text><text class="p" x="55" y="52">32%</text><text class="s" x="1" y="71">State2</text><text class="p" x="55" y="71">0%</text><rect class="b" x="58" y="21" width="41" height="14"/><rect class="o" x="58" y="40" width="19" height="14"/><use href="#ic" x="102" y="65"/></g>
<g id="r9" transform="translate(1015,216)"><rect class="bx red" width="121" height="75"/><path class="dv" d="M0 37H121M34 37V75"/><ellipse class="r" cx="8" cy="18"/><text class="t" x="69" y="22">加工风险</text><text class="s" x="1" y="51">N</text><text class="p" x="33" y="51">88%</text><text class="s" x="1" y="71">Y</text><text class="p" x="33" y="71">13%</text><rect class="b" x="36" y="40" width="73" height="14"/><rect class="o" x="36" y="59" width="10" height="14"/><use href="#ic" x="102" y="64"/></g>
<g id="r10" transform="translate(1161,280)"><rect class="bx pink" width="121" height="76"/><path class="dv" d="M0 19H121M56 19V76"/><ellipse class="r" cx="8" cy="9"/><text class="t" x="69" y="14">运输配送温度</text><text class="s" x="1" y="36">State0</text><text class="p" x="55" y="36">68%</text><text class="s" x="1" y="54">State1</text><text class="p" x="55" y="54">21%</text><text class="s" x="1" y="71">State2</text><text class="p" x="55" y="71">11%</text><rect class="b" x="58" y="22" width="41" height="14"/><rect class="o" x="58" y="41" width="13" height="14"/><rect class="gb" x="58" y="60" width="7" height="14"/><use href="#ic" x="102" y="65"/></g>
<g id="r11" transform="translate(867,318)"><rect class="bx teal" width="122" height="67"/><path class="dv" d="M0 29H122M62 29V67"/><ellipse class="r" cx="9" cy="14"/><text class="t" x="70" y="19">包装材质质量</text><text class="s" x="2" y="43">State0</text><text class="p" x="61" y="43">100%</text><text class="s" x="2" y="62">State1</text><text class="p" x="61" y="62">0%</text><rect class="b" x="64" y="32" width="56" height="14"/><use href="#ic" x="103" y="56"/></g>
<g id="r12" transform="translate(1019,331)"><rect class="bx red" width="122" height="76"/><path class="dv" d="M0 38H122M34 38V76"/><ellipse class="r" cx="9" cy="19"/><text class="tl" x="22" y="17">乳制品冷链物流<tspan x="22" y="33">风险</tspan></text><text class="s" x="1" y="52">N</text><text class="p" x="33" y="52">68%</text><text class="s" x="1" y="70">Y</text><text class="p" x="33" y="70">33%</text><rect class="b" x="36" y="41" width="56" height="14"/><rect class="o" x="36" y="60" width="27" height="14"/><use href="#ic" x="103" y="65"/></g>
<g id="r13" transform="translate(1165,368)"><rect class="bx red" width="121" height="75"/><path class="dv" d="M0 38H121M34 38V75"/><ellipse class="r" cx="9" cy="18"/><text class="t" x="69" y="23">运输风险</text><text class="s" x="2" y="52">N</text><text class="p" x="34" y="52">74%</text><text class="s" x="3" y="70">Y</text><text class="p" x="34" y="70">26%</text><rect class="b" x="36" y="41" width="61" height="14"/><rect class="o" x="36" y="60" width="22" height="14"/><use href="#ic" x="102" y="64"/></g>
<g id="r14" transform="translate(855,396)"><rect class="bx teal" width="121" height="67"/><path class="dv" d="M0 30H121M61 30V67"/><ellipse class="r" cx="9" cy="15"/><text class="t" x="69" y="20">包装过程失误</text><text class="s" x="1" y="44">State0</text><text class="p" x="61" y="44">100%</text><text class="s" x="1" y="63">State1</text><text class="p" x="61" y="63">0%</text><rect class="b" x="63" y="32" width="57" height="14"/><use href="#ic" x="102" y="56"/></g>
<g id="r15" transform="translate(1008,442)"><rect class="bx red" width="121" height="76"/><path class="dv" d="M0 39H121M34 39V76"/><ellipse class="r" cx="8" cy="19"/><text class="t" x="69" y="26">冷藏风险</text><text class="s" x="1" y="53">N</text><text class="p" x="33" y="53">85%</text><text class="s" x="1" y="71">Y</text><text class="p" x="33" y="71">15%</text><rect class="b" x="36" y="42" width="71" height="14"/><rect class="o" x="36" y="61" width="12" height="14"/><use href="#ic" x="102" y="65"/></g>
<g id="r16" transform="translate(1163,465)"><rect class="bx pale" width="121" height="68"/><path class="dv" d="M0 30H121M55 30V68"/><ellipse class="r" cx="8" cy="15"/><text class="tl" x="17" y="14">装卸与运输中包装...</text><text class="s" x="1" y="45">State0</text><text class="p" x="55" y="45">75%</text><text class="s" x="1" y="63">State1</text><text class="p" x="55" y="63">25%</text><rect class="b" x="57" y="33" width="46" height="14"/><rect class="o" x="57" y="52" width="16" height="14"/><use href="#ic" x="102" y="57"/></g>
<g id="r17" transform="translate(863,476)"><rect class="bx teal" width="121" height="75"/><path class="dv" d="M0 19H121M57 19V75"/><ellipse class="r" cx="8" cy="9"/><text class="t" x="70" y="14">包装密封程度</text><text class="s" x="1" y="33">State0</text><text class="p" x="56" y="33">98%</text><text class="s" x="2" y="53">State1</text><text class="p" x="56" y="53">2%</text><text class="s" x="2" y="70">State2</text><text class="p" x="56" y="70">0%</text><rect class="b" x="58" y="21" width="60" height="14"/><rect class="o" x="58" y="41" width="1" height="14"/><use href="#ic" x="102" y="64"/></g>
<g id="r18" transform="translate(867,562)"><rect class="bx teal" width="122" height="67"/><path class="dv" d="M0 29H122M62 29V67"/><ellipse class="r" cx="9" cy="14"/><text class="t" x="70" y="19">杂物进入包装</text><text class="s" x="2" y="43">State0</text><text class="p" x="61" y="43">100%</text><text class="s" x="2" y="60">State1</text><text class="p" x="61" y="60">0%</text><rect class="b" x="64" y="31" width="56" height="14"/><use href="#ic" x="103" y="56"/></g>
<g id="r19" transform="translate(1004,553)"><rect class="bx pink" width="122" height="68"/><path class="dv" d="M0 30H122M55 30V68"/><ellipse class="r" cx="9" cy="14"/><text class="t" x="69" y="20">冷藏设备故障</text><text class="s" x="0" y="44">State0</text><text class="p" x="54" y="44">96%</text><text class="s" x="1" y="63">State1</text><text class="p" x="54" y="63">4%</text><rect class="b" x="57" y="32" width="60" height="14"/><rect class="o" x="57" y="52" width="2" height="14"/><use href="#ic" x="103" y="57"/></g>
<g id="r20" transform="translate(1171,554)"><rect class="bx pink" width="121" height="76"/><path class="dv" d="M0 19H121M57 19V76"/><ellipse class="r" cx="9" cy="9"/><text class="t" x="70" y="14">储藏温度</text><text class="s" x="2" y="33">State0</text><text class="p" x="56" y="33">65%</text><text class="s" x="2" y="53">State1</text><text class="p" x="56" y="53">35%</text><text class="s" x="2" y="71">State2</text><text class="p" x="56" y="71">0%</text><rect class="b" x="58" y="21" width="40" height="14"/><rect class="o" x="58" y="40" width="21" height="14"/><use href="#ic" x="102" y="65"/></g>
<g id="badges">
<rect class="bd" x="721" y="226" width="6" height="15"/>
<rect class="bd" x="647" y="356" width="9" height="16"/><text class="h" x="651.500" y="368">1</text>
<rect class="bd" x="585" y="375" width="9" height="16"/><text class="h" x="589.500" y="387">1</text>
<rect class="bd" x="647" y="554" width="9" height="16"/><text class="h" x="651.500" y="566">1</text>
</g>
</svg>
